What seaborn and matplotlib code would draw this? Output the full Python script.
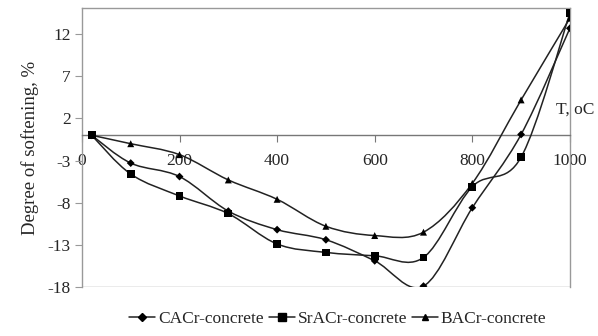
import numpy as np
import pandas as pd
import matplotlib
matplotlib.use("Agg")
import matplotlib.pyplot as plt
import seaborn as sns
from matplotlib.path import Path
from matplotlib.patches import PathPatch
from matplotlib.lines import Line2D

temps = [20, 100, 200, 300, 400, 500, 600, 700, 800, 900, 1000]
cacr = [0, -3.3, -4.9, -9.0, -11.2, -12.4, -14.9, -17.9, -8.6, 0.1, 12.7]
sracr = [0, -4.6, -7.2, -9.3, -12.9, -13.9, -14.3, -14.5, -6.1, -2.6, 14.5]
bacr = [0, -1.0, -2.3, -5.3, -7.6, -10.8, -11.9, -11.5, -5.7, 4.2, 13.9]
names = ["CACr-concrete", "SrACr-concrete", "BACr-concrete"]
markers = ["D", "s", "^"]
msizes = [4, 5.5, 5]

df = pd.concat([pd.DataFrame({"T": temps, "v": v, "s": n})
                for v, n in zip([cacr, sracr, bacr], names)])

sns.set_style("white")
plt.rcParams["font.family"] = ["Liberation Serif", "DejaVu Serif"]
plt.rcParams["axes.unicode_minus"] = False

fig = plt.figure(figsize=(5.98, 3.36), dpi=100)
ax = fig.add_axes([0.137, 0.146, 0.816, 0.830])


def smooth_path(xs, ys):
    # Excel-like smoothed line (Catmull-Rom as cubic bezier)
    p = np.column_stack([xs, ys]).astype(float)
    verts = [p[0]]
    codes = [Path.MOVETO]
    n = len(p)
    for i in range(n - 1):
        p0 = p[i - 1] if i > 0 else p[i]
        p3 = p[i + 2] if i + 2 < n else p[i + 1]
        c1 = p[i] + (p[i + 1] - p0) / 6
        c2 = p[i + 1] - (p3 - p[i]) / 6
        verts += [c1, c2, p[i + 1]]
        codes += [Path.CURVE4] * 3
    return Path(verts, codes)


for name in names:
    d = df[df.s == name]
    ax.add_patch(PathPatch(smooth_path(d["T"], d["v"]), fill=False,
                           edgecolor="#222222", lw=1.1, zorder=3))

sns.scatterplot(data=df, x="T", y="v", style="s", markers=dict(zip(names, markers)),
                size="s", sizes={n: m ** 2 for n, m in zip(names, msizes)},
                color="black", edgecolor="black", linewidth=0, legend=False,
                ax=ax, zorder=4)

ax.set_xlim(0, 1000)
ax.set_ylim(-18, 15.1)
ax.set_yticks([-18, -13, -8, -3, 2, 7, 12])
ax.set_xticks([0, 200, 400, 600, 800, 1000])
ax.set_xlabel("")
ax.set_ylabel("Degree of softening, %", fontsize=13.5, labelpad=6)

for s in ax.spines.values():
    s.set_color("#999999")
    s.set_linewidth(1)
    s.set_visible(True)
ax.spines["bottom"].set_position(("data", 0))
ax.spines["bottom"].set_color("#777777")
ax.axhline(-18, color="#999999", lw=1, zorder=1)

ax.tick_params(axis="y", direction="out", length=5, color="#999999",
               labelsize=12.5, left=True, pad=3)
ax.tick_params(axis="x", direction="out", length=5, color="#777777",
               labelsize=12.5, bottom=True, pad=8)
for t in ax.get_xticklabels():
    t.set_zorder(5)

ax.text(972, 3.0, "T, oC", ha="left", va="center", fontsize=12.5, clip_on=False)

handles = [Line2D([], [], color="#222222", lw=1.1, marker=m, markersize=ms,
                  markerfacecolor="black", markeredgecolor="black")
           for m, ms in zip(markers, msizes)]
fig.legend(handles, names, loc="lower center", bbox_to_anchor=(0.565, -0.02),
           ncol=3, frameon=False, fontsize=12.5, handlelength=1.5,
           handletextpad=0.15, columnspacing=0.3)

fig.savefig("out.png", dpi=100)
